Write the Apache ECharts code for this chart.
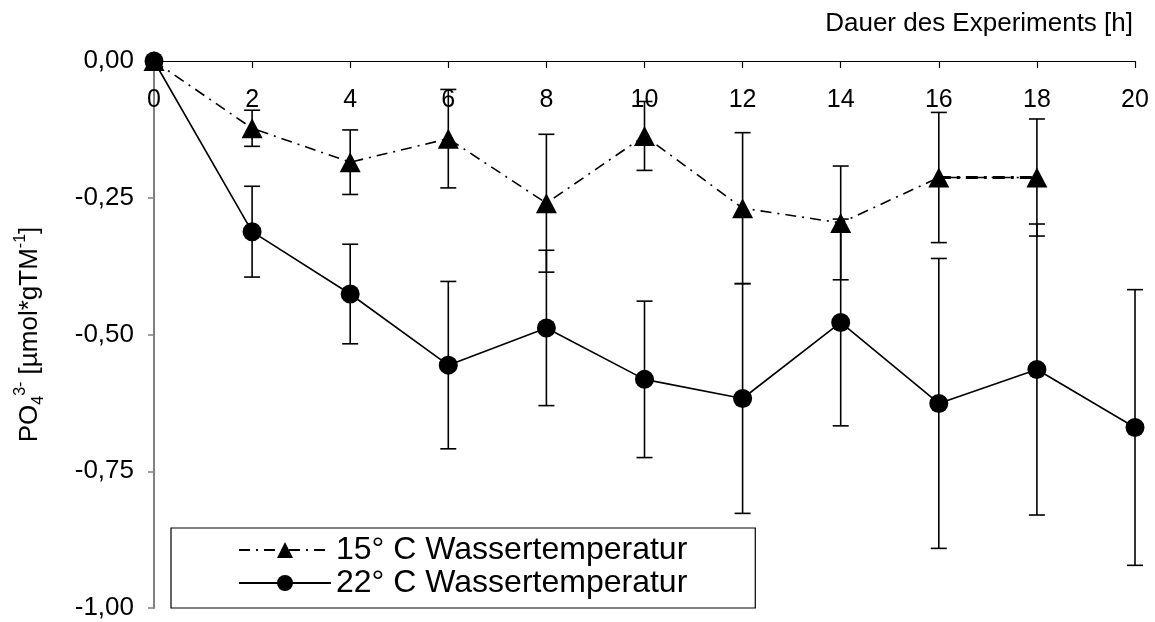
<!DOCTYPE html>
<html>
<head>
<meta charset="utf-8">
<script src="https://cdn.jsdelivr.net/npm/echarts@6/dist/echarts.min.js"></script>
<style>
html,body{margin:0;padding:0;background:#fff;}
#chart{width:1155px;height:622px;}
</style>
</head>
<body>
<div id="chart"></div>
<script>
// ---- data ----
const hours15 = [0, 2, 4, 6, 8, 10, 12, 14, 16, 18];
const mean15  = [0, -0.123, -0.185, -0.142, -0.260, -0.137, -0.269, -0.296, -0.213, -0.213];
const err15   = [0, 0.033, 0.059, 0.090, 0.126, 0.063, 0.138, 0.104, 0.119, 0.107];

const hours22 = [0, 2, 4, 6, 8, 10, 12, 14, 16, 18, 20];
const mean22  = [0, -0.312, -0.426, -0.556, -0.488, -0.582, -0.617, -0.478, -0.626, -0.564, -0.670];
const err22   = [0, 0.083, 0.091, 0.153, 0.142, 0.143, 0.210, 0.189, 0.265, 0.266, 0.252];

const name15 = '15° C Wassertemperatur';
const name22 = '22° C Wassertemperatur';
const xTitle = 'Dauer des Experiments [h]';

const FONT = '"Liberation Sans", Arial, sans-serif';

function pairs(xs, ys) { return xs.map((x, i) => [x, ys[i]]); }

function errorSeries(xs, means, errs) {
  return {
    type: 'custom',
    silent: true,
    z: 1,
    clip: false,
    data: xs.map((x, i) => [x, means[i] - errs[i], means[i] + errs[i]]).filter((d, i) => errs[i] > 0),
    renderItem: function (params, api) {
      const x = api.value(0), lo = api.value(1), hi = api.value(2);
      const pHi = api.coord([x, hi]);
      const pLo = api.coord([x, lo]);
      const w = 8;
      const st = { stroke: '#000', lineWidth: 1.6 };
      return {
        type: 'group',
        children: [
          { type: 'line', shape: { x1: pHi[0], y1: pHi[1], x2: pLo[0], y2: pLo[1] }, style: st },
          { type: 'line', shape: { x1: pHi[0] - w, y1: pHi[1], x2: pHi[0] + w, y2: pHi[1] }, style: st },
          { type: 'line', shape: { x1: pLo[0] - w, y1: pLo[1], x2: pLo[0] + w, y2: pLo[1] }, style: st }
        ]
      };
    }
  };
}

const chart = echarts.init(document.getElementById('chart'), null, { renderer: 'canvas' });

const option = {
  animation: false,
  backgroundColor: '#fff',
  textStyle: { fontFamily: FONT, color: '#000' },
  grid: { left: 154, right: 20, top: 61, bottom: 14, containLabel: false },
  xAxis: {
    type: 'value',
    position: 'top',
    min: 0, max: 20, interval: 2,
    name: xTitle,
    nameLocation: 'end',
    nameGap: 0,
    nameTextStyle: { fontFamily: FONT, fontSize: 26, color: '#000', align: 'right', verticalAlign: 'bottom', padding: [0, 2, 24, 0] },
    axisLine: { show: true, onZero: false, lineStyle: { color: '#000', width: 1.2 } },
    axisTick: { show: true, inside: true, length: 7, lineStyle: { color: '#000', width: 1.2 } },
    axisLabel: { inside: true, margin: 27, fontFamily: FONT, fontSize: 25, color: '#000' },
    splitLine: { show: false }
  },
  yAxis: {
    type: 'value',
    min: -1, max: 0, interval: 0.25,
    name: '{a|PO}{sub|4}{sup|3-}{a| [µmol*gTM}{sup|-1}{a|]}',
    nameLocation: 'middle',
    nameRotate: 90,
    nameGap: 107,
    nameTextStyle: {
      fontFamily: FONT, color: '#000',
      rich: {
        a: { fontFamily: FONT, fontSize: 26, lineHeight: 34, color: '#000' },
        sub: { fontFamily: FONT, fontSize: 16, lineHeight: 16, verticalAlign: 'bottom', color: '#000' },
        sup: { fontFamily: FONT, fontSize: 16, lineHeight: 16, verticalAlign: 'top', color: '#000' }
      }
    },
    axisLine: { show: true, onZero: false, lineStyle: { color: '#808080', width: 2 } },
    axisTick: { show: true, inside: false, length: 6, lineStyle: { color: '#808080', width: 1.5 } },
    axisLabel: {
      margin: 20, fontFamily: FONT, fontSize: 26, color: '#000',
      formatter: v => v.toFixed(2).replace('.', ',').replace('-0,00', '0,00')
    },
    splitLine: { show: false }
  },
  legend: {
    data: [name15, name22],
    orient: 'vertical',
    left: 171, top: 528,
    padding: [6, 68, 9, 67],
    itemGap: 1,
    itemWidth: 92,
    itemHeight: 20,
    borderColor: '#000',
    borderWidth: 1.2,
    borderRadius: 0,
    backgroundColor: '#fff',
    textStyle: { fontFamily: FONT, fontSize: 32, lineHeight: 31, color: '#000' },
    selectedMode: false
  },
  series: [
    errorSeries(hours15, mean15, err15),
    errorSeries(hours22, mean22, err22),
    {
      name: name15 + ' (16-18)',
      type: 'line',
      data: pairs(hours15.slice(8, 10), mean15.slice(8, 10)),
      showSymbol: false,
      symbol: 'none',
      lineStyle: { color: '#000', width: 3.2, type: [12, 6, 3, 6] },
      z: 2, silent: true, clip: false
    },
    {
      name: name15,
      type: 'line',
      data: pairs(hours15, mean15),
      symbol: 'triangle',
      symbolSize: [21, 20],
      itemStyle: { color: '#000' },
      lineStyle: { color: '#000', width: 1.6, type: [11, 6, 2, 6] },
      z: 3, clip: false
    },
    {
      name: name22,
      type: 'line',
      data: pairs(hours22, mean22),
      symbol: 'circle',
      symbolSize: 19,
      itemStyle: { color: '#000' },
      lineStyle: { color: '#000', width: 1.6, type: 'solid' },
      z: 4, clip: false
    }
  ]
};

chart.setOption(option);
</script>
</body>
</html>
